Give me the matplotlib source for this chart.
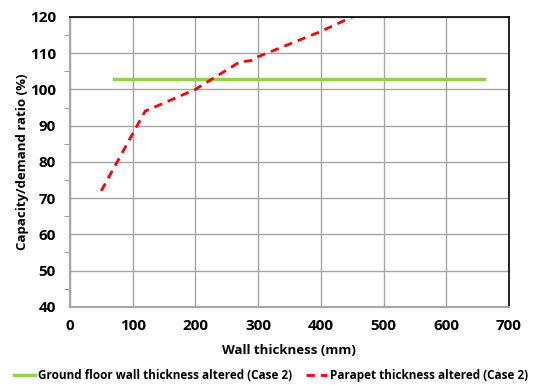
import matplotlib
matplotlib.use("Agg")
import matplotlib.pyplot as plt
from matplotlib.ticker import MultipleLocator

plt.rcParams['font.family'] = ['Open Sans', 'DejaVu Sans']
plt.rcParams['font.weight'] = 'bold'

# Ground floor wall thickness altered (Case 2)
ground_x = [70, 660]
ground_y = [102.8, 102.8]

# Parapet thickness altered (Case 2)
parapet_x = [50, 120, 200, 270, 290, 300, 400, 450, 500]
parapet_y = [72, 94, 100, 107.5, 108, 109, 116, 120, 123]

fig = plt.figure(figsize=(5.42, 3.85), dpi=100)
ax = fig.add_axes([0.129, 0.203, 0.81, 0.753])

ax.plot(ground_x, ground_y, color="#92d050", lw=2.5,
        label="Ground floor wall thickness altered (Case 2)")
ax.plot(parapet_x, parapet_y, color="#ff0000", lw=2, ls=(0, (3, 2.2)),
        label="Parapet thickness altered (Case 2)")

ax.set_xlim(0, 700)
ax.set_ylim(40, 120)
ax.xaxis.set_major_locator(MultipleLocator(100))
ax.yaxis.set_major_locator(MultipleLocator(10))
ax.yaxis.set_minor_locator(MultipleLocator(5))
ax.grid(True, which="major", color="#a6a6a6", lw=1)
ax.set_axisbelow(True)
ax.tick_params(axis="both", which="major", length=0, labelsize=11)
ax.tick_params(axis="x", which="major", pad=9)
ax.tick_params(axis="y", which="major", pad=10)
ax.tick_params(axis="y", which="minor", length=4, color="#888888")

for s in ["left", "bottom"]:
    ax.spines[s].set_color("#a6a6a6")
    ax.spines[s].set_linewidth(1.5)
for s in ["top", "right"]:
    ax.spines[s].set_color("black")
    ax.spines[s].set_linewidth(1.2)

ax.set_xlabel("Wall thickness (mm)", fontsize=9.5, fontweight="bold", labelpad=8)
ax.set_ylabel("Capacity/demand ratio (%)", fontsize=9.5, fontweight="bold", labelpad=1)

fig.legend(loc="lower center", bbox_to_anchor=(0.5, -0.02), ncol=2, frameon=False,
           handlelength=1.8, handletextpad=0.2, columnspacing=1.2,
           prop={"weight": "bold", "size": 8.5})

fig.savefig("out.png", dpi=100)
